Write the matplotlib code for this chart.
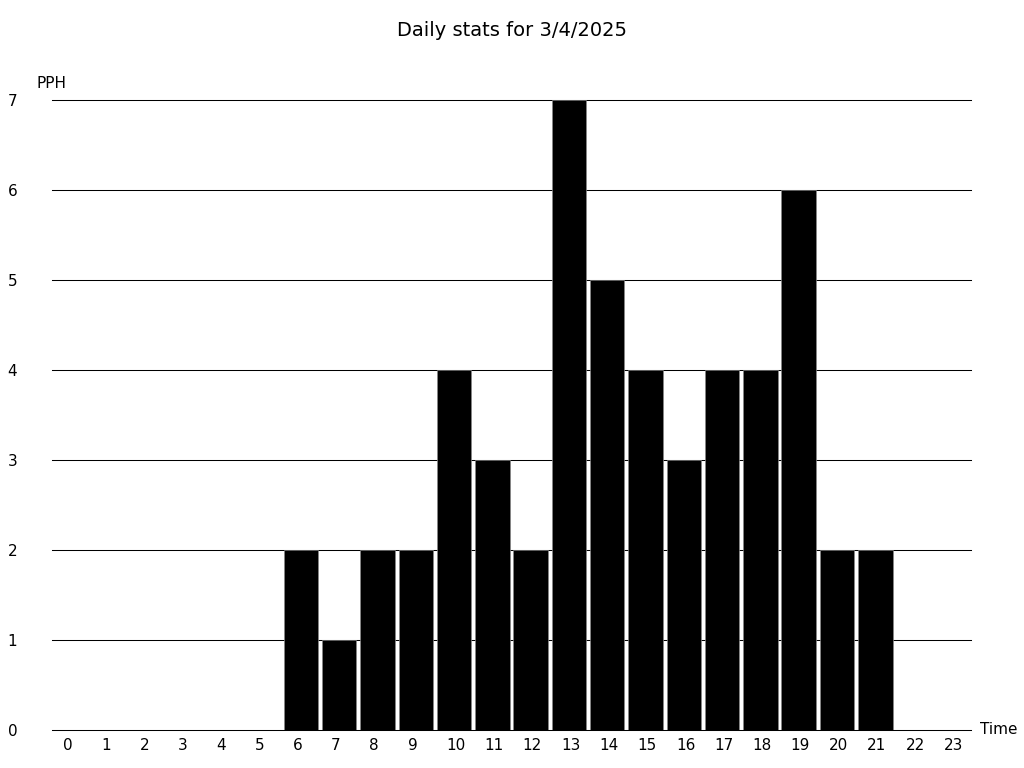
import matplotlib
matplotlib.use('Agg')
import matplotlib.pyplot as plt
import matplotlib.transforms as mtransforms
import numpy as np

hours = [str(h) for h in range(24)]
pph = [0, 0, 0, 0, 0, 0, 2, 1, 2, 2, 4, 3, 2, 7, 5, 4, 3, 4, 4, 6, 2, 2, 0, 0]
y_ticks = [0, 1, 2, 3, 4, 5, 6, 7]

fig = plt.figure(figsize=(10.24, 7.68), dpi=100)
ax = fig.add_axes([52/1024, 38/768, 919/1024, 630/768])

x = np.arange(len(hours))
ax.bar(x, pph, width=0.9, color='black', edgecolor='#888888', linewidth=0.5, zorder=2)

ax.set_xlim(-0.5, 23.5)
ax.set_ylim(0, 7)
for y in y_ticks:
    ax.axhline(y, color='black', linewidth=0.75, zorder=1, clip_on=False)

for s in ax.spines.values():
    s.set_visible(False)

ax.set_xticks(x)
ax.set_xticklabels(hours, fontsize=11)
ax.set_yticks(y_ticks)
ax.set_yticklabels([str(v) for v in y_ticks], fontsize=11)
ax.tick_params(axis='x', length=0, pad=6)
ax.tick_params(axis='y', length=0, pad=25)

# labels start a bit left of the slot centre
shift = mtransforms.ScaledTranslation(-8/100, 0, fig.dpi_scale_trans)
for lbl in ax.get_xticklabels():
    lbl.set_horizontalalignment('left')
    lbl.set_transform(lbl.get_transform() + shift)

fig.text(37/1024, 1 - 84/768, 'PPH', fontsize=11, ha='left', va='center')
fig.text(980/1024, 1 - 730/768, 'Time', fontsize=11, ha='left', va='center')
fig.text(0.5, 1 - 30/768, 'Daily stats for 3/4/2025', fontsize=14, ha='center', va='center')

fig.savefig('out.png', dpi=100)
